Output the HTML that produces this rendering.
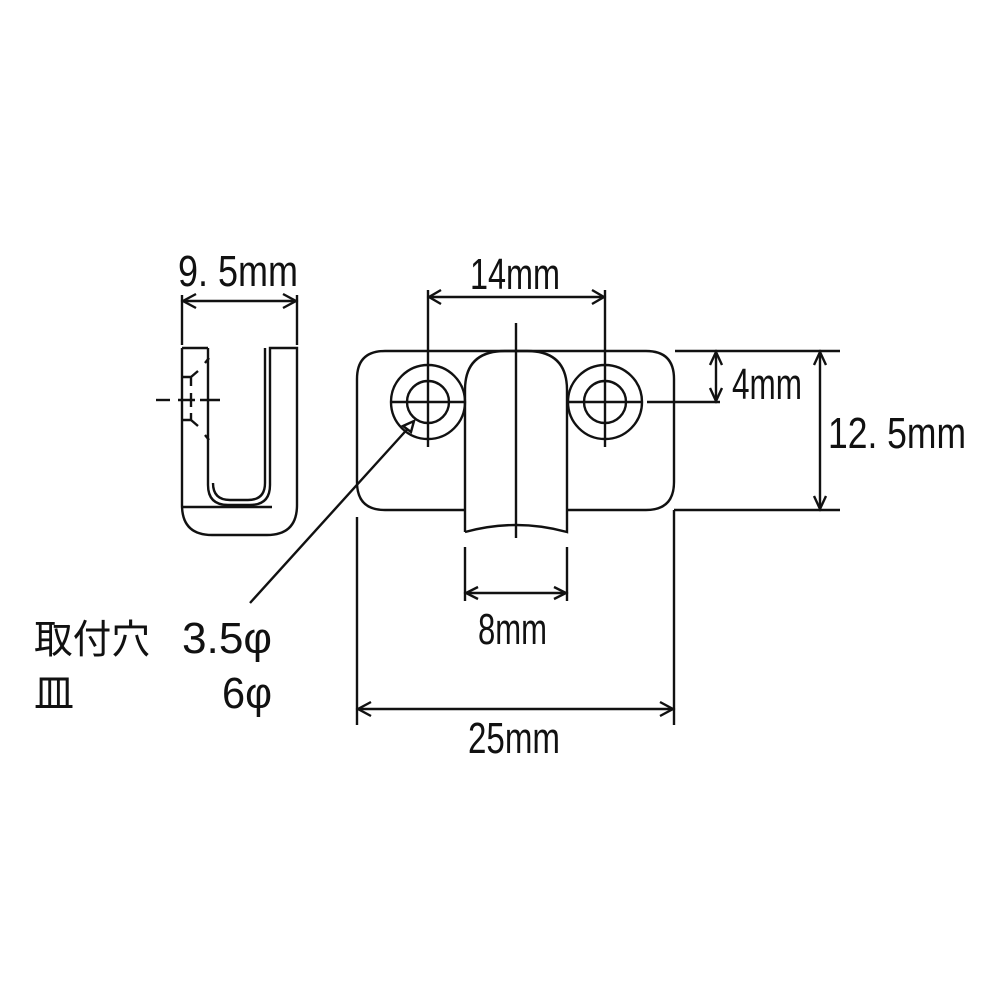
<!DOCTYPE html>
<html><head><meta charset="utf-8"><style>
html,body{margin:0;padding:0;background:#fff;}
svg{display:block}
text{font-family:"Liberation Sans","Noto Sans CJK JP",sans-serif;fill:#111;}
</style></head><body>
<svg width="1000" height="1000" viewBox="0 0 1000 1000" xmlns="http://www.w3.org/2000/svg">
<g fill="none" stroke="#111" stroke-width="2.4">
<!-- side view -->
<path d="M182 348 H208 M182 348 V507 M208 348 V485 Q208 505 228 505 H250 Q270 505 270 485 V348 H297 V505 Q297 535 267 535 H212 Q182 535 182 505"/>
<path d="M265 348 V483 Q265 500 248 500 H230 Q213 500 213 483" />
<line x1="182" y1="507" x2="272" y2="507"/>
<line x1="182" y1="295" x2="182" y2="345"/>
<line x1="297" y1="295" x2="297" y2="345"/>
<line x1="182" y1="301" x2="297" y2="301"/>
<path d="M196 294 L183 301 L196 308 M283 294 L296 301 L283 308"/>
<line x1="156" y1="400" x2="170" y2="400"/>
<line x1="178" y1="400" x2="195" y2="400"/>
<line x1="200" y1="400" x2="220" y2="400"/>
<line x1="191" y1="393" x2="191" y2="407"/>
<path d="M182 377 H191 V386 M191 377 L198 371 M205 363 L209 358 M182 420 H191 V413 M191 420 L198 426 M205 435 L209 440"/>
<!-- front view plate -->
<path d="M385 351 H646 Q674 351 674 379 V482 Q674 510 646 510 H567 M465 510 H385 Q357 510 357 482 V379 Q357 351 385 351"/>
<path d="M465 532 V390 Q465 351 505 351 H527 Q567 351 567 390 V532 Q516 518 465 532"/>
<circle cx="428" cy="402" r="37"/><circle cx="428" cy="402" r="21"/>
<circle cx="605" cy="402" r="37"/><circle cx="605" cy="402" r="21"/>
<line x1="390" y1="402" x2="465" y2="402"/>
<line x1="567" y1="402" x2="642" y2="402"/>
<line x1="647" y1="402" x2="720" y2="402"/>
<line x1="428" y1="290" x2="428" y2="447"/>
<line x1="605" y1="290" x2="605" y2="447"/>
<line x1="516" y1="323" x2="516" y2="538"/>
<line x1="428" y1="297" x2="605" y2="297"/>
<path d="M441 290 L429 297 L441 304 M592 290 L604 297 L592 304"/>
<!-- right dims -->
<line x1="675" y1="351" x2="840" y2="351"/>
<line x1="674" y1="510" x2="840" y2="510"/>
<line x1="674" y1="510" x2="674" y2="725"/>
<line x1="357" y1="517" x2="357" y2="725"/>
<line x1="716" y1="352" x2="716" y2="401"/>
<path d="M710 365 L716 352 L722 365 M710 388 L716 401 L722 388"/>
<line x1="820" y1="352" x2="820" y2="509"/>
<path d="M814 365 L820 352 L826 365 M814 496 L820 509 L826 496"/>
<!-- 8mm -->
<line x1="465" y1="547" x2="465" y2="601"/>
<line x1="567" y1="547" x2="567" y2="601"/>
<line x1="465" y1="593" x2="567" y2="593"/>
<path d="M478 587 L466 593 L478 599 M554 587 L566 593 L554 599"/>
<!-- 25mm -->
<line x1="357" y1="709" x2="674" y2="709"/>
<path d="M371 702 L358 709 L371 716 M660 702 L673 709 L660 716"/>
<!-- leader -->
<line x1="250" y1="603" x2="412" y2="424"/>
<path d="M403 426 L414 421 L411 432 Z" fill="#fff"/>
</g>
<text x="178" y="286" font-size="44" textLength="120" lengthAdjust="spacingAndGlyphs">9. 5mm</text>
<text x="470" y="289" font-size="44" textLength="90" lengthAdjust="spacingAndGlyphs">14mm</text>
<text x="732" y="399" font-size="44" textLength="70" lengthAdjust="spacingAndGlyphs">4mm</text>
<text x="828" y="448" font-size="44" textLength="138" lengthAdjust="spacingAndGlyphs">12. 5mm</text>
<text x="478" y="644" font-size="44" textLength="69" lengthAdjust="spacingAndGlyphs">8mm</text>
<text x="468" y="753" font-size="44" textLength="92" lengthAdjust="spacingAndGlyphs">25mm</text>
<text x="34" y="653" font-size="40" textLength="116" lengthAdjust="spacingAndGlyphs">取付穴</text>
<text x="182" y="653" font-size="44" textLength="90" lengthAdjust="spacingAndGlyphs">3.5φ</text>
<text x="34" y="707" font-size="40">皿</text>
<text x="222" y="708" font-size="44" textLength="50" lengthAdjust="spacingAndGlyphs">6φ</text>
</svg>
</body></html>
